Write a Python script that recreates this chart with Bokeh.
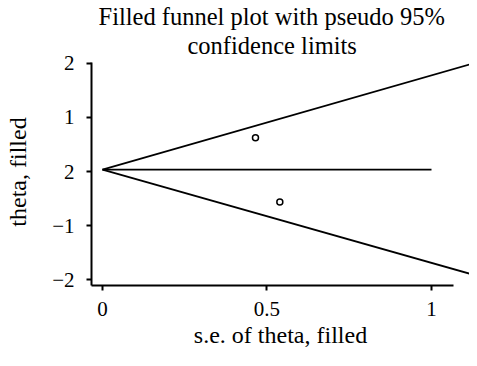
from bokeh.plotting import figure
from bokeh.models import Range1d, FixedTicker, Title
from bokeh.embed import file_html
from bokeh.resources import INLINE

# data
se_points = [0.465, 0.539]
theta_points = [0.625, -0.561]
x_ticks = [0, 0.5, 1]
x_tick_labels = ["0", "0.5", "1"]
y_ticks = [2, 1, 0, -1, -2]
y_tick_labels = ["2", "1", "2", "\u22121", "\u22122"]
limit_se = [0, 1.14]
upper_limit = [0.035, 2.02]
lower_limit = [0.035, -1.93]
center_se = [0, 1.0]
center_theta = [0.035, 0.035]
title_lines = ["Filled funnel plot with pseudo 95%", "confidence limits"]

FONT = "Liberation Serif"

p = figure(width=469, height=350, output_backend="svg", toolbar_location=None,
           x_range=Range1d(-0.0334, 1.1155), y_range=Range1d(-2.106, 2.088),
           min_border_left=91, min_border_right=0, min_border_bottom=0, min_border_top=57)
p.title = None
# inner (closer to the frame) line first, outer line second
p.add_layout(Title(text=title_lines[1], align="left", offset=96, standoff=0,
                   text_font=FONT, text_font_size="24.5px", text_font_style="normal",
                   text_color="black", text_line_height=0.9), "above")
p.add_layout(Title(text=title_lines[0], align="left", offset=7, standoff=0,
                   text_font=FONT, text_font_size="24.5px", text_font_style="normal",
                   text_color="black", text_line_height=0.9), "above")

p.line(limit_se, upper_limit, line_color="black", line_width=1.8)
p.line(limit_se, lower_limit, line_color="black", line_width=1.8)
p.line(center_se, center_theta, line_color="black", line_width=1.8)
p.scatter(se_points, theta_points, marker="circle", size=6, fill_color="white",
          line_color="black", line_width=1.5)

p.xgrid.visible = False
p.ygrid.visible = False
p.outline_line_color = None

p.xaxis.ticker = FixedTicker(ticks=x_ticks)
p.xaxis.major_label_overrides = {t: l for t, l in zip(x_ticks, x_tick_labels)}
p.yaxis.ticker = FixedTicker(ticks=y_ticks)
p.yaxis.major_label_overrides = {t: l for t, l in zip(y_ticks, y_tick_labels)}
p.xaxis.bounds = (-0.0334, 1.067)
p.yaxis.bounds = (-2.106, 2.02)
p.xaxis.axis_label = "s.e. of theta, filled"
p.yaxis.axis_label = "theta, filled"

for ax in (p.xaxis, p.yaxis):
    ax.axis_line_width = 2
    ax.major_tick_line_width = 2
    ax.major_tick_out = 5
    ax.major_tick_in = 0
    ax.minor_tick_line_color = None
    ax.major_label_text_font = FONT
    ax.major_label_text_font_size = "21px"
    ax.major_label_text_color = "black"
    ax.axis_label_text_font = FONT
    ax.axis_label_text_font_size = "24px"
    ax.axis_label_text_font_style = "normal"
    ax.axis_label_text_color = "black"
    ax.axis_line_color = "black"
    ax.major_tick_line_color = "black"

p.yaxis.major_label_orientation = "horizontal"
p.yaxis.major_label_standoff = 12
p.xaxis.major_label_standoff = 11
p.yaxis.axis_label_standoff = 18
p.xaxis.axis_label_standoff = 3

open("out.html", "w").write(file_html(p, INLINE))
